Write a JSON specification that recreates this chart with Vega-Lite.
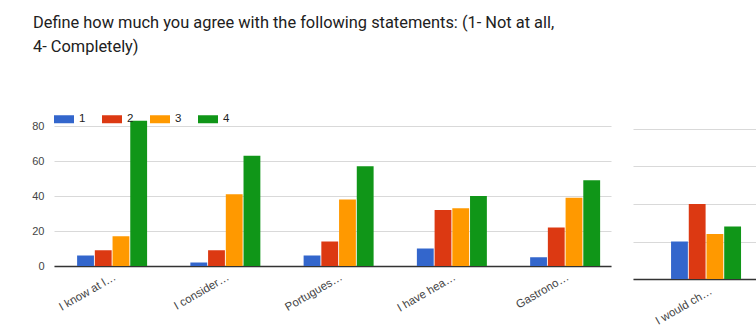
{
  "$schema": "https://vega.github.io/schema/vega-lite/v6.json",
  "padding": {"left": 31, "top": 14, "right": 0, "bottom": 0},
  "background": "white",
  "title": {
    "text": ["Define how much you agree with the following statements: (1- Not at all,", "4- Completely)"],
    "anchor": "start",
    "frame": "group",
    "font": "Roboto",
    "fontSize": 16.4,
    "fontWeight": "normal",
    "color": "#212121",
    "lineHeight": 24,
    "dx": -21,
    "offset": 54
  },
  "bounds": "flush",
  "spacing": 22,
  "resolve": {"scale": {"color": "independent", "y": "independent", "x": "independent"}},
  "config": {
    "view": {"stroke": null},
    "axis": {"labelFont": "Liberation Sans", "labelFontSize": 11, "labelColor": "#444", "title": null}
  },
  "hconcat": [
    {
      "width": 557,
      "height": 140,
      "data": {"values": [
        {"statement": "I know at l…", "rating": "1", "count": 6},
        {"statement": "I know at l…", "rating": "2", "count": 9},
        {"statement": "I know at l…", "rating": "3", "count": 17},
        {"statement": "I know at l…", "rating": "4", "count": 83},
        {"statement": "I consider…", "rating": "1", "count": 2},
        {"statement": "I consider…", "rating": "2", "count": 9},
        {"statement": "I consider…", "rating": "3", "count": 41},
        {"statement": "I consider…", "rating": "4", "count": 63},
        {"statement": "Portugues…", "rating": "1", "count": 6},
        {"statement": "Portugues…", "rating": "2", "count": 14},
        {"statement": "Portugues…", "rating": "3", "count": 38},
        {"statement": "Portugues…", "rating": "4", "count": 57},
        {"statement": "I have hea…", "rating": "1", "count": 10},
        {"statement": "I have hea…", "rating": "2", "count": 32},
        {"statement": "I have hea…", "rating": "3", "count": 33},
        {"statement": "I have hea…", "rating": "4", "count": 40},
        {"statement": "Gastrono…", "rating": "1", "count": 5},
        {"statement": "Gastrono…", "rating": "2", "count": 22},
        {"statement": "Gastrono…", "rating": "3", "count": 39},
        {"statement": "Gastrono…", "rating": "4", "count": 49}
      ]},
      "mark": {"type": "bar"},
      "encoding": {
        "x": {
          "field": "statement", "type": "nominal", "sort": null,
          "scale": {"paddingInner": 0.382, "paddingOuter": 0.15, "align": 0.68},
          "axis": {"labelAngle": -30, "labelFontSize": 11.5, "ticks": false, "domainColor": "#333", "domainWidth": 1.5, "labelPadding": 5}
        },
        "xOffset": {"field": "rating", "type": "nominal", "scale": {"paddingInner": 0.05}},
        "y": {
          "field": "count", "type": "quantitative",
          "scale": {"domain": [0, 80], "nice": false},
          "axis": {"values": [0, 20, 40, 60, 80], "domain": false, "ticks": false, "labelPadding": 10, "gridColor": "#d9d9d9"}
        },
        "color": {
          "field": "rating", "type": "nominal",
          "scale": {"domain": ["1", "2", "3", "4"], "range": ["#3366cc", "#dc3912", "#ff9900", "#109618"]},
          "legend": {
            "title": null, "orient": "none", "direction": "horizontal",
            "legendX": 0, "legendY": -17,
            "symbolType": "M-1,-0.4H1V0.4H-1Z", "symbolSize": 400, "symbolStrokeWidth": 0,
            "labelFont": "Liberation Sans", "labelFontSize": 11.5, "labelColor": "#222",
            "labelOffset": 5, "columnPadding": 16
          }
        }
      }
    },
    {
      "width": 124,
      "height": 153,
      "data": {"values": [
        {"statement": "I would ch…", "rating": "1", "count": 10},
        {"statement": "I would ch…", "rating": "2", "count": 20},
        {"statement": "I would ch…", "rating": "3", "count": 12},
        {"statement": "I would ch…", "rating": "4", "count": 14}
      ]},
      "mark": {"type": "bar"},
      "encoding": {
        "x": {
          "field": "statement", "type": "nominal",
          "scale": {"paddingInner": 0, "paddingOuter": 0.327, "align": 0.776},
          "axis": {"labelAngle": -30, "labelFontSize": 11.5, "ticks": false, "domainColor": "#333", "domainWidth": 1.5, "labelPadding": 6}
        },
        "xOffset": {"field": "rating", "type": "nominal", "scale": {"paddingInner": 0.05}},
        "y": {
          "field": "count", "type": "quantitative",
          "scale": {"domain": [0, 40.8], "nice": false},
          "axis": {"values": [0, 10, 20, 30, 40], "labels": false, "domain": false, "ticks": false, "gridColor": "#d9d9d9"}
        },
        "color": {
          "field": "rating", "type": "nominal",
          "scale": {"domain": ["1", "2", "3", "4"], "range": ["#3366cc", "#dc3912", "#ff9900", "#109618"]},
          "legend": null
        }
      }
    }
  ]
}
